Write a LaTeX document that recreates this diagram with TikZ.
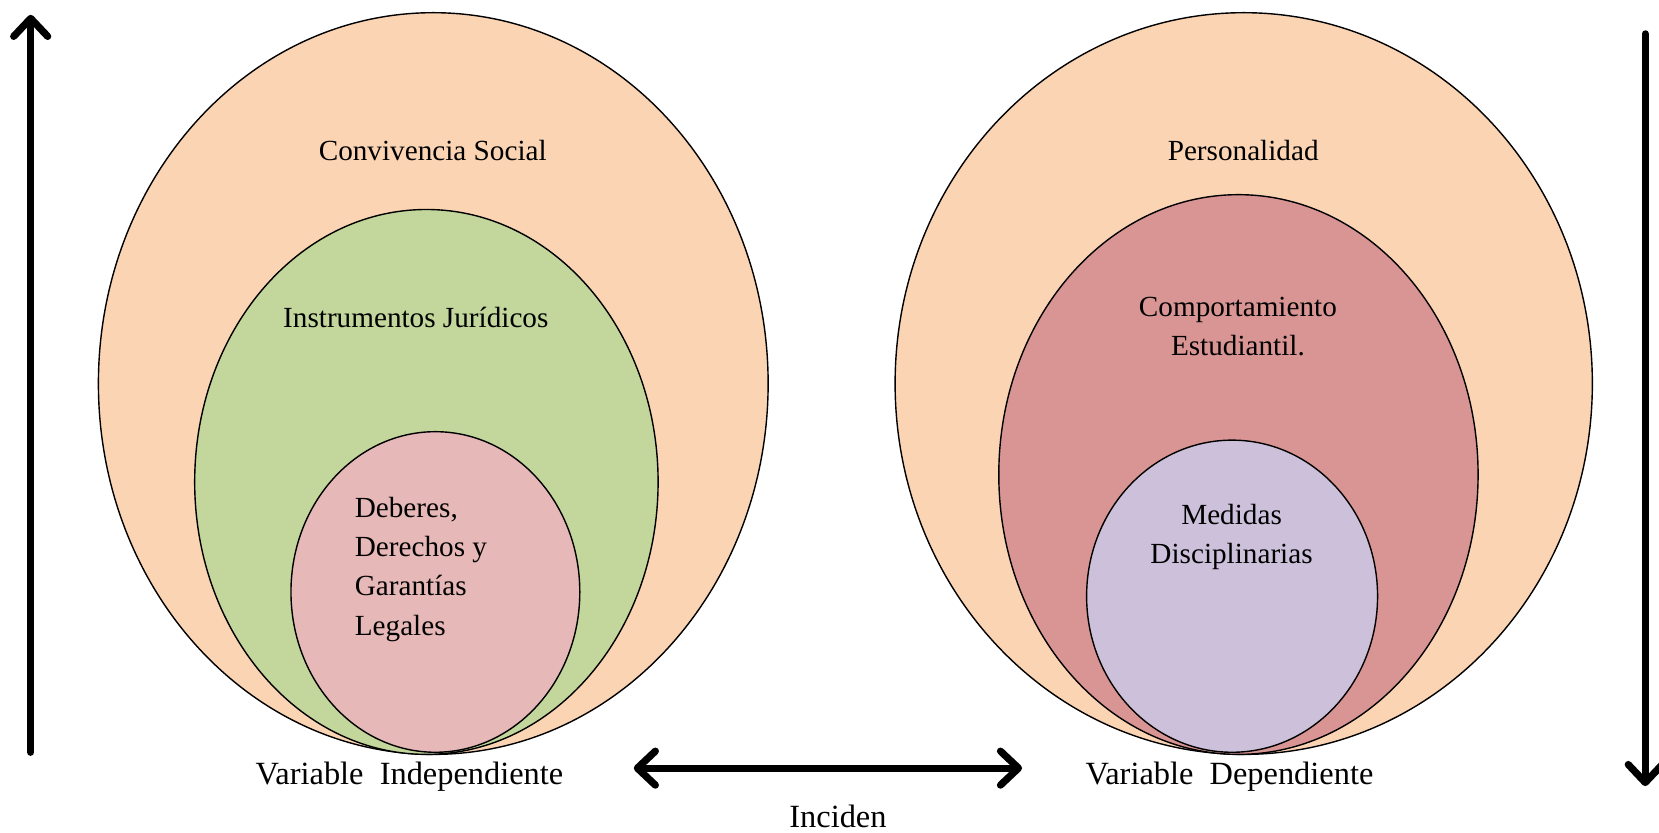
\documentclass[tikz,border=0pt]{standalone}
\usepackage{fontspec}
\setmainfont{Liberation Serif}
\usetikzlibrary{arrows.meta}
\definecolor{peach}{HTML}{FBD4B4}
\definecolor{sage}{HTML}{C3D69B}
\definecolor{rose}{HTML}{E6B8B7}
\definecolor{brick}{HTML}{D99594}
\definecolor{lilac}{HTML}{CCC0DA}
\tikzset{
  blob/.style={draw=black, line width=0.7pt},
  lbl/.style={font=\fontsize{14.6}{19.6}\selectfont, inner sep=0pt},
  biglbl/.style={font=\fontsize{16.2}{20}\selectfont, inner sep=0pt},
  barb/.tip={Straight Barb[length=9pt,width=17pt,line cap=round,line join=round]},
  bigarrow/.style={line width=3.6pt, line cap=round},
}
\begin{document}
\begin{tikzpicture}[x=0.529pt,y=-0.529pt]
\useasboundingbox (0,0) rectangle (1568,787);
% left group
\path[blob, fill=peach] (409.5,362.5) ellipse [x radius=316.5, y radius=350.5];
\path[blob, fill=sage] (403,455.5) ellipse [x radius=219, y radius=257.5];
\path[blob, fill=rose] (411.5,559.5) ellipse [x radius=136.5, y radius=151.5];
% right group
\path[blob, fill=peach] (1175.5,362.5) ellipse [x radius=329.5, y radius=350.5];
\path[blob, fill=brick] (1170.5,448.5) ellipse [x radius=226.5, y radius=264.5];
\path[blob, fill=lilac] (1164.5,563.5) ellipse [x radius=137.5, y radius=147.5];
% labels
\node[lbl] (cs) at (409,142) {Convivencia Social};
\node[lbl] (ij) at (393,300) {Instrumentos Jurídicos};
\node[lbl, align=left, anchor=west] (ddg) at (335,538) {Deberes,\\Derechos y\\Garantías\\Legales};
\node[lbl, align=center] (ce) at (1170,308.5) {Comportamiento\\Estudiantil.};
\node[lbl] (pe) at (1175,142) {Personalidad};
\node[lbl, align=center] (md) at (1164,507.5) {Medidas\\Disciplinarias};
\node[biglbl] (vi) at (387,734) {Variable\ \ Independiente};
\node[biglbl] (vd) at (1162,734) {Variable\ \ Dependiente};
\node[biglbl] (inc) at (792,772) {Inciden};
% arrows
\coordinate (lb) at (29,711);
\coordinate (lt) at (29,14);
\coordinate (rt) at (1555,32);
\coordinate (rb) at (1555,743);
\coordinate (ha) at (599,726);
\coordinate (hb) at (966,726);
\draw[bigarrow, -barb] (lb) -- (lt);
\draw[bigarrow, -barb] (rt) -- (rb);
\draw[bigarrow, barb-barb] (ha) -- (hb);
\end{tikzpicture}
\end{document}
